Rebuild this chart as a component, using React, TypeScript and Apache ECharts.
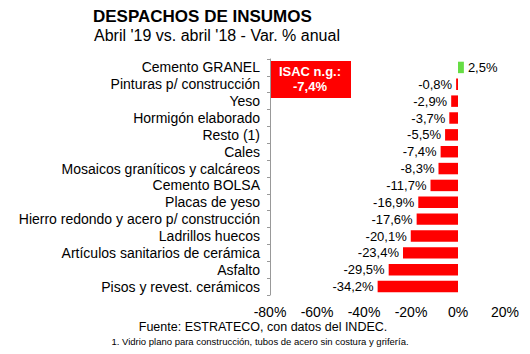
import React, { useEffect, useRef } from "react";
import * as echarts from "echarts";

const categories = [
  "Cemento GRANEL",
  "Pinturas p/ construcción",
  "Yeso",
  "Hormigón elaborado",
  "Resto (1)",
  "Cales",
  "Mosaicos graníticos y calcáreos",
  "Cemento BOLSA",
  "Placas de yeso",
  "Hierro redondo y acero p/ construcción",
  "Ladrillos huecos",
  "Artículos sanitarios de cerámica",
  "Asfalto",
  "Pisos y revest. cerámicos",
];
const values = [2.5, -0.8, -2.9, -3.7, -5.5, -7.4, -8.3, -11.7, -16.9, -17.6, -20.1, -23.4, -29.5, -34.2];
const xTicks = [-80, -60, -40, -20, 0, 20];

const FONT = "'Liberation Sans', Arial, sans-serif";

export default function App() {
  const ref = useRef<HTMLDivElement>(null);
  useEffect(() => {
    if (!ref.current) return;
    const chart = echarts.init(ref.current, null, { renderer: "svg" });
    const fmt = (v: number) => v.toFixed(1).replace(".", ",") + "%";
    chart.setOption({
      animation: false,
      backgroundColor: "#ffffff",
      textStyle: { fontFamily: FONT },
      grid: { left: 270, right: 25, top: 59, height: 236, containLabel: false },
      xAxis: {
        type: "value",
        min: xTicks[0],
        max: xTicks[xTicks.length - 1],
        interval: 20,
        axisLine: { show: false },
        axisTick: { show: false },
        splitLine: { show: false },
        axisLabel: {
          formatter: (v: number) => v + "%",
          fontSize: 14,
          color: "#000",
          margin: 10,
          fontFamily: FONT,
        },
      },
      yAxis: [
        {
          type: "category",
          data: categories,
          inverse: true,
          position: "left",
          axisLine: { show: false },
          axisTick: { show: false },
          axisLabel: {
            fontSize: 14,
            color: "#000",
            margin: 10,
            interval: 0,
            hideOverlap: false,
            fontFamily: FONT,
          },
        },
        {
          type: "category",
          data: categories,
          inverse: true,
          position: "left",
          axisLine: { show: true, onZero: true, lineStyle: { color: "#999", width: 1 } },
          axisTick: { show: true, length: 3, interval: 0, lineStyle: { color: "#999" } },
          axisLabel: { show: false },
        },
      ],
      series: [
        {
          type: "bar",
          yAxisIndex: 0,
          data: values.map((v) => ({
            value: v,
            itemStyle: { color: v >= 0 ? "#66dd44" : "#ff0000" },
            label: { position: v >= 0 ? "right" : "left" },
          })),
          barWidth: "68%",
          label: {
            show: true,
            formatter: (p: any) => fmt(p.value),
            fontSize: 13,
            color: "#000",
            distance: 4,
            fontFamily: FONT,
          },
        },
      ],
      graphic: [
        {
          type: "text",
          left: 93,
          top: 8,
          style: { text: "DESPACHOS DE INSUMOS", font: `bold 17px ${FONT}`, fill: "#000" },
        },
        {
          type: "text",
          left: 94,
          top: 27,
          style: { text: "Abril '19 vs. abril '18 - Var. % anual", font: `16px ${FONT}`, fill: "#000" },
        },
        {
          type: "rect",
          shape: { x: 270, y: 61, width: 81, height: 37 },
          style: { fill: "#ff0000" },
        },
        {
          type: "text",
          x: 310,
          y: 79,
          style: {
            text: "ISAC n.g.:\n-7,4%",
            font: `bold 13px ${FONT}`,
            fill: "#fff",
            align: "center",
            verticalAlign: "middle",
            lineHeight: 15,
          },
        },
        {
          type: "text",
          x: 263,
          y: 327,
          style: {
            text: "Fuente: ESTRATECO, con datos del INDEC.",
            font: `12.5px ${FONT}`,
            fill: "#000",
            align: "center",
            verticalAlign: "middle",
          },
        },
        {
          type: "text",
          x: 260,
          y: 341,
          style: {
            text: "1. Vidrio plano para construcción, tubos de acero sin costura y grifería.",
            font: `9.5px ${FONT}`,
            fill: "#000",
            align: "center",
            verticalAlign: "middle",
          },
        },
      ],
    });
    return () => chart.dispose();
  }, []);
  return <div ref={ref} style={{ width: 530, height: 354, position: "absolute", left: 0, top: 0 }} />;
}
